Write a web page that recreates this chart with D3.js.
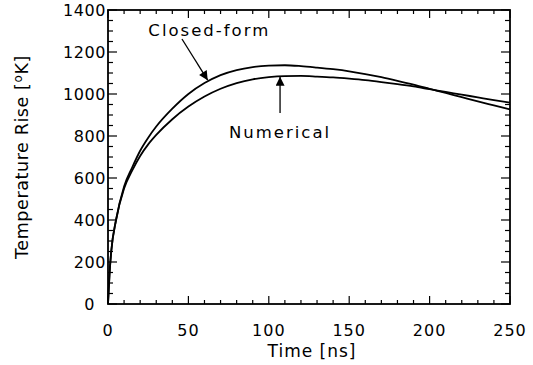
<!DOCTYPE html>
<html><head><meta charset="utf-8">
<script src="https://cdn.jsdelivr.net/npm/d3@7/dist/d3.min.js"></script>
<style>
body{margin:0;background:#fff;}
svg{display:block;}
text{font-family:"DejaVu Sans",sans-serif;fill:#000;}
</style></head><body>
<svg id="c" width="533" height="365"></svg>
<script>
const times = [0,1,2,5,10,15,20,25,30,40,50,60,70,80,90,100,110,120,130,140,150,160,170,180,190,200,210,220,230,240,250];
const closedForm = [0,150,250,400,560,650,730,792,845,930,1000,1052,1090,1114,1128,1135,1137,1133,1126,1118,1108,1095,1080,1063,1045,1025,1005,985,965,946,927];
const numerical  = [0,150,250,400,550,635,705,760,805,880,940,988,1025,1052,1070,1080,1085,1086,1083,1079,1073,1066,1057,1047,1036,1023,1010,997,984,971,959];
const xTicks = [0,50,100,150,200,250];
const yTicks = [0,200,400,600,800,1000,1200,1400];
const xLabel = "Time [ns]";
const yLabelMain = "Temperature Rise [";
const yLabelSup = "o";
const yLabelEnd = "K]";
const annotations = [
  {text:"Closed-form", lx:63, ly:1275, from:[46,1262], to:[62,1066]},
  {text:"Numerical", lx:107, ly:790, from:[107,910], to:[107,1082]}
];

const svg = d3.select("#c");
const L=108, R=510, T=10, B=304;
const x = d3.scaleLinear().domain([0,250]).range([L,R]);
const y = d3.scaleLinear().domain([0,1400]).range([B,T]);

const defs = svg.append("defs");
defs.append("marker").attr("id","ah").attr("viewBox","0 0 10 10")
  .attr("refX",10).attr("refY",5).attr("markerWidth",12).attr("markerHeight",9)
  .attr("markerUnits","userSpaceOnUse").attr("orient","auto")
  .append("path").attr("d","M0,0 L10,5 L0,10 Z").attr("fill","#000");

// curves
const line = d3.line().x((d,i)=>x(times[i])).y(d=>y(d)).curve(d3.curveMonotoneX);
svg.append("path").attr("d",line(closedForm)).attr("fill","none").attr("stroke","#000").attr("stroke-width",1.8);
svg.append("path").attr("d",line(numerical)).attr("fill","none").attr("stroke","#000").attr("stroke-width",1.8);

// axes (ticks inward on all sides)
const xMinor = d3.range(0,251,10), yMinor = d3.range(0,1401,50);
const g = svg.append("g").attr("stroke","#000").attr("stroke-width",1.2);
xMinor.forEach(v=>{
  const len = v%50===0?8:4;
  g.append("line").attr("x1",x(v)).attr("x2",x(v)).attr("y1",B).attr("y2",B-len);
  g.append("line").attr("x1",x(v)).attr("x2",x(v)).attr("y1",T).attr("y2",T+len);
});
yMinor.forEach(v=>{
  const len = v%200===0?9:5;
  g.append("line").attr("y1",y(v)).attr("y2",y(v)).attr("x1",L).attr("x2",L+len);
  g.append("line").attr("y1",y(v)).attr("y2",y(v)).attr("x1",R).attr("x2",R-len);
});
svg.append("rect").attr("x",L).attr("y",T).attr("width",R-L).attr("height",B-T)
  .attr("fill","none").attr("stroke","#000").attr("stroke-width",1.8);

// tick labels
svg.selectAll(".xl").data(xTicks).enter().append("text")
  .attr("x",d=>x(d)).attr("y",B+32).attr("text-anchor","middle")
  .attr("font-size",16).attr("letter-spacing",1).text(d=>d);
svg.selectAll(".yl").data(yTicks).enter().append("text")
  .attr("x",d=>d===0?L-13:L-2).attr("y",d=>y(d)+6).attr("text-anchor","end")
  .attr("font-size",16).attr("letter-spacing",0.6).text(d=>d);

// axis titles
svg.append("text").attr("x",(L+R)/2+3).attr("y",357).attr("text-anchor","middle")
  .attr("font-size",17).attr("letter-spacing",1).text(xLabel);
const yt = svg.append("text").attr("transform",`translate(28,${(T+B)/2}) rotate(-90)`)
  .attr("text-anchor","middle").attr("font-size",17.5).attr("letter-spacing",0.6);
yt.append("tspan").text(yLabelMain);
yt.append("tspan").attr("font-size",12).attr("dy",-6).text(yLabelSup);
yt.append("tspan").attr("dy",6).text(yLabelEnd);

// annotations
annotations.forEach(a=>{
  svg.append("text").attr("x",x(a.lx)).attr("y",y(a.ly)).attr("text-anchor","middle")
    .attr("font-size",16.5).attr("letter-spacing",2).text(a.text);
  svg.append("line").attr("x1",x(a.from[0])).attr("y1",y(a.from[1]))
    .attr("x2",x(a.to[0])).attr("y2",y(a.to[1]))
    .attr("stroke","#000").attr("stroke-width",1.3).attr("marker-end","url(#ah)");
});
</script></body></html>
